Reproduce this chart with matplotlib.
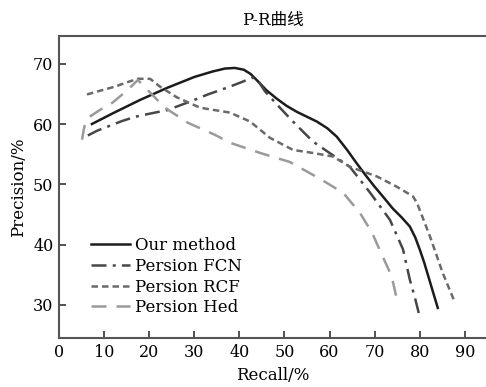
import matplotlib
matplotlib.use("Agg")
import matplotlib.pyplot as plt

plt.rcParams['font.family'] = ['DejaVu Serif', 'Noto Sans CJK SC']

# Data
our_x = [7.3, 12, 18, 24, 30, 34, 36.8, 39, 41, 42.5, 44.1, 46, 48.3, 50.5, 52.8, 55, 57.2, 59.5, 61.6, 63.9, 66, 68, 70, 71.8, 74, 76, 77.8, 79, 80.0, 81, 82, 83, 84.0]
our_y = [60.0, 61.8, 64.0, 66.0, 67.8, 68.7, 69.2, 69.3, 69.0, 68.3, 67.1, 65.6, 64.2, 63.0, 62.0, 61.2, 60.4, 59.3, 57.9, 55.7, 53.5, 51.5, 49.6, 48.0, 46.0, 44.5, 43.0, 41.2, 39.2, 37.0, 34.5, 32.0, 29.5]

fcn_x = [6.4, 8.5, 10.9, 14, 16.9, 21.3, 24, 29.0, 33, 37.9, 41, 43.0, 44.3, 45.7, 49.0, 51.9, 56.3, 60, 64.5, 69.0, 73.4, 76.3, 77.8, 79, 80.0]
fcn_y = [58.1, 58.9, 59.6, 60.5, 61.2, 61.9, 62.3, 63.7, 64.9, 66.2, 67.1, 67.7, 67.0, 65.4, 62.7, 60.4, 57.1, 55.2, 52.9, 48.6, 44.1, 39.2, 34.2, 31.0, 28.0]

rcf_x = [6.2, 9, 12.4, 15, 17.5, 20.2, 22.4, 26.2, 31.3, 37.9, 42.4, 46.8, 51.9, 56.3, 60.8, 64.5, 70.5, 74.9, 78.5, 79.4, 80.8, 82.3, 85.1, 87.8]
rcf_y = [64.9, 65.5, 66.2, 66.9, 67.5, 67.5, 66.2, 64.4, 62.7, 61.9, 60.4, 57.7, 55.7, 55.2, 54.6, 52.9, 51.3, 49.6, 48.0, 46.9, 44.2, 41.3, 35.3, 30.4]

hed_x = [5.1, 5.6, 6.4, 9, 11.8, 15, 17.5, 20.5, 23.5, 28.6, 34.6, 37.9, 44.6, 51.2, 57.9, 63.0, 66.7, 69.4, 71.8, 73.8, 75.2]
hed_y = [57.4, 59.5, 61.0, 62.3, 63.5, 65.5, 67.3, 65.0, 62.7, 60.2, 58.2, 56.9, 55.2, 53.7, 50.9, 48.6, 45.3, 42.0, 38.0, 34.7, 30.0]

labels = ['Our method', 'Persion FCN', 'Persion RCF', 'Persion Hed']
xticks = [0, 10, 20, 30, 40, 50, 60, 70, 80, 90]
yticks = [30, 40, 50, 60, 70]

fig = plt.figure(figsize=(4.86, 3.87), dpi=100)
ax = fig.add_axes([59/486, 1-338/387, 1-59/486, (338-36)/387])

ax.plot(our_x, our_y, color='#1c1c1c', lw=1.8, ls='-', label=labels[0])
ax.plot(fcn_x, fcn_y, color='#474747', lw=1.8, ls=(0, (6, 2.5, 1.2, 2.5)), label=labels[1])
ax.plot(rcf_x, rcf_y, color='#6a6a6a', lw=1.8, ls=(0, (2.6, 1.6)), label=labels[2])
ax.plot(hed_x, hed_y, color='#9a9a9a', lw=1.8, ls=(0, (6, 4)), label=labels[3])

ax.set_xlim(0, 94.7)
ax.set_ylim(24.5, 74.6)
ax.set_xticks(xticks)
ax.set_yticks(yticks)
ax.tick_params(direction='in', length=5, width=1.2, color='#333333', labelsize=11.5, pad=4)
for s in ['left', 'top', 'bottom']:
    ax.spines[s].set_color('#555555')
    ax.spines[s].set_linewidth(1.5)
ax.spines['right'].set_visible(False)

ax.set_title('P-R曲线', fontsize=12, pad=8)
ax.set_xlabel('Recall/%', fontsize=12, labelpad=5)
ax.set_ylabel('Precision/%', fontsize=12, labelpad=4)

leg = ax.legend(loc='lower left', bbox_to_anchor=(0.06, 0.05), frameon=False, fontsize=12,
                handlelength=2.3, handletextpad=0.35, labelspacing=0.22, borderaxespad=0)

fig.savefig('out.png', dpi=100)
